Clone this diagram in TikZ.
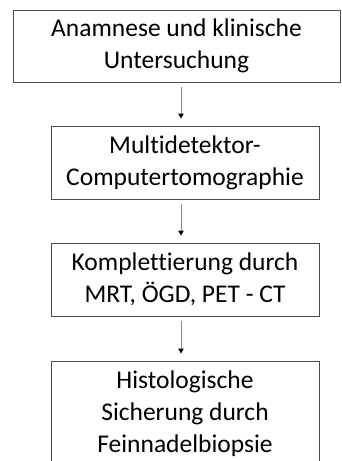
\documentclass[tikz,border=0pt]{standalone}
\usepackage{fontspec}
\setmainfont[Ligatures=NoCommon]{Carlito}
\usetikzlibrary{arrows.meta}
\begin{document}
\begin{tikzpicture}[x=1pt,y=1pt,
  box/.style={draw=black!70, line width=0.9pt, align=center, inner sep=0pt,
    font=\fontsize{25.5}{32}\selectfont, text=black},
  arr/.style={draw=black!45, line width=0.9pt,
    -{Triangle[width=5.5pt,length=5pt,color=black]}}]
\clip (0,0) rectangle (341,-461);
\useasboundingbox (0,0) rectangle (341,-461);
\node[box, minimum width=327pt, minimum height=72pt] (b1) at (176.5,-46)
  {Anamnese und klinische\\Untersuchung};
\node[box, minimum width=268pt, minimum height=73pt] (b2) at (185,-162.5)
  {Multidetektor-\\Computertomographie};
\node[box, minimum width=268pt, minimum height=73pt] (b3) at (185,-279.5)
  {Komplettierung durch\\MRT, ÖGD, PET - CT};
\node[box, minimum width=268pt, minimum height=106pt] (b4) at (185,-414)
  {Histologische\\Sicherung durch\\Feinnadelbiopsie};
\coordinate (ax) at (181,0);
\draw[arr, shorten <=5pt, shorten >=7pt] (b1.south -| ax) -- (b2.north -| ax);
\draw[arr, shorten <=5pt, shorten >=7pt] (b2.south -| ax) -- (b3.north -| ax);
\draw[arr, shorten <=5pt, shorten >=7pt] (b3.south -| ax) -- (b4.north -| ax);
\end{tikzpicture}
\end{document}
